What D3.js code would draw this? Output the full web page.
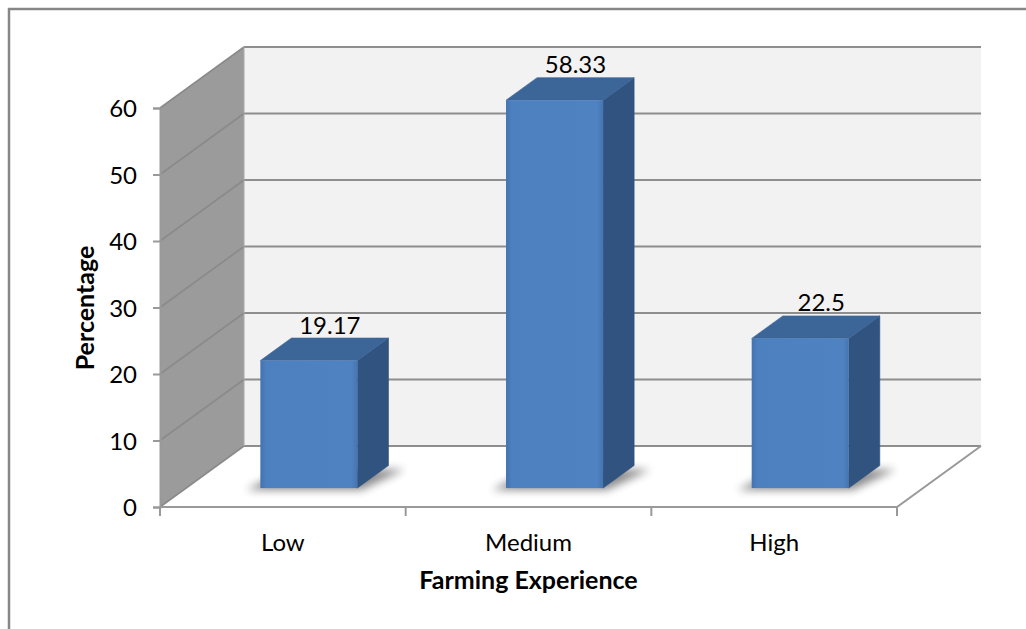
<!DOCTYPE html>
<html>
<head>
<meta charset="utf-8">
<script src="https://cdn.jsdelivr.net/npm/d3@7/dist/d3.min.js"></script>
<style>
  html, body { margin: 0; padding: 0; background: #ffffff; }
  svg { display: block; }
  text { font-family: Lato, "Open Sans", sans-serif; fill: #000; }
</style>
</head>
<body>
<svg id="chart" width="1026" height="629"></svg>
<script>
// Farming experience of respondents (percentage)
const categories = ["Low", "Medium", "High"];
const values = [19.17, 58.33, 22.5];
const yTickValues = [0, 10, 20, 30, 40, 50, 60];
const xTitle = "Farming Experience";
const yTitle = "Percentage";

const W = 1026, H = 629;
const svg = d3.select("#chart");

// Front plane of the 3D box and the oblique depth vector
const frontLeft = 160, frontRight = 897, frontBottom = 507, frontTop = 108;
const depth = { dx: 84, dy: -61 };
const barFront = 0.31;    // bar front face position as a fraction of floor depth
const barDepth = 0.37;    // bar thickness as a fraction of floor depth
const barWidth = 0.395;   // bar face width as a fraction of the band

const labelSize = "24px";
const titleSize = "25px";

const y = d3.scaleLinear().domain([0, 60]).range([frontBottom, frontTop]);
const x = d3.scaleBand().domain(categories).range([frontLeft, frontRight]).padding(0);

const gridColor = "#8e8e8e";
const edgeColor = "#999999";

const defs = svg.append("defs");
defs.append("filter").attr("id", "shadowBlur")
  .attr("x", "-30%").attr("y", "-60%").attr("width", "160%").attr("height", "220%")
  .append("feGaussianBlur").attr("stdDeviation", 4);

const faceGrad = defs.append("linearGradient").attr("id", "faceGrad")
  .attr("x1", "0").attr("x2", "1").attr("y1", "0").attr("y2", "0");
faceGrad.append("stop").attr("offset", "0").attr("stop-color", "#4373b0");
faceGrad.append("stop").attr("offset", "0.06").attr("stop-color", "#4d80bf");
faceGrad.append("stop").attr("offset", "0.94").attr("stop-color", "#4f82c0");
faceGrad.append("stop").attr("offset", "1").attr("stop-color", "#4575b2");

// Outer chart-area border
svg.append("rect")
  .attr("x", 9).attr("y", 9).attr("width", W + 20).attr("height", H + 20)
  .attr("fill", "#fff").attr("stroke", "#878787").attr("stroke-width", 2.5);

const pt = (px, py) => px + "," + py;

// Back wall
const backLeft = frontLeft + depth.dx, backRight = frontRight + depth.dx;
svg.append("polygon")
  .attr("points", [pt(backLeft, y(60) + depth.dy), pt(backRight, y(60) + depth.dy),
                   pt(backRight, y(0) + depth.dy), pt(backLeft, y(0) + depth.dy)].join(" "))
  .attr("fill", "#f2f2f2");

// Side wall
svg.append("polygon")
  .attr("points", [pt(frontLeft, y(0)), pt(frontLeft, y(60)),
                   pt(backLeft, y(60) + depth.dy), pt(backLeft, y(0) + depth.dy)].join(" "))
  .attr("fill", "#9b9b9b");

// Floor
svg.append("polygon")
  .attr("points", [pt(frontLeft, y(0)), pt(frontRight, y(0)),
                   pt(backRight, y(0) + depth.dy), pt(backLeft, y(0) + depth.dy)].join(" "))
  .attr("fill", "#ffffff");

// Gridlines on back wall and side wall
const grid = svg.append("g");
grid.selectAll("line.back").data(yTickValues).join("line")
  .attr("class", "back")
  .attr("x1", backLeft).attr("x2", backRight)
  .attr("y1", d => y(d) + depth.dy).attr("y2", d => y(d) + depth.dy)
  .attr("stroke", gridColor).attr("stroke-width", 2);
grid.selectAll("line.side").data(yTickValues).join("line")
  .attr("class", "side")
  .attr("x1", frontLeft).attr("x2", backLeft)
  .attr("y1", d => y(d)).attr("y2", d => y(d) + depth.dy)
  .attr("stroke", "#8a8a8a").attr("stroke-width", 1.6);

// Wall edge behind the side wall
svg.append("line")
  .attr("x1", backLeft).attr("x2", backLeft)
  .attr("y1", y(60) + depth.dy).attr("y2", y(0) + depth.dy)
  .attr("stroke", "#a8a8a8").attr("stroke-width", 1);

// Floor edges
svg.append("polyline")
  .attr("points", [pt(frontLeft, y(0)), pt(frontRight, y(0)), pt(backRight, y(0) + depth.dy)].join(" "))
  .attr("fill", "none").attr("stroke", edgeColor).attr("stroke-width", 2);

// Y axis
const yAxis = svg.append("g")
  .attr("transform", `translate(${frontLeft},0)`)
  .call(d3.axisLeft(y).tickValues(yTickValues).tickSize(7).tickPadding(16).tickFormat(d3.format("d")));
yAxis.select(".domain").attr("stroke", edgeColor).attr("stroke-width", 2);
yAxis.selectAll(".tick line").attr("stroke", edgeColor).attr("stroke-width", 2);
yAxis.selectAll(".tick text")
  .style("font-family", "Lato, sans-serif").style("font-size", labelSize).attr("fill", "#000")
  .attr("dy", "0.36em");

// X axis: tick marks on band boundaries, labels at band centres
const xAxis = svg.append("g");
const bounds = categories.map(c => x(c)).concat([x(categories[categories.length - 1]) + x.bandwidth()]);
xAxis.selectAll("line").data(bounds).join("line")
  .attr("x1", d => d).attr("x2", d => d)
  .attr("y1", y(0)).attr("y2", y(0) + 9)
  .attr("stroke", edgeColor).attr("stroke-width", 2);
xAxis.selectAll("text").data(categories).join("text")
  .attr("x", d => x(d) + x.bandwidth() / 2)
  .attr("y", 551)
  .attr("text-anchor", "middle")
  .style("font-size", labelSize)
  .text(d => d);

// Bars
const bw = x.bandwidth() * barWidth;
const fx = depth.dx * barFront, fy = depth.dy * barFront;
const bdx = depth.dx * barDepth, bdy = depth.dy * barDepth;
const bars = categories.map((c, i) => {
  const x0 = x(c) + (x.bandwidth() - bw) / 2 + fx;
  return { c, v: values[i], x0, x1: x0 + bw, yb: y(0) + fy, yt: y(values[i]) + fy };
});

// Soft floor shadows
svg.append("g").selectAll("polygon").data(bars).join("polygon")
  .attr("points", b => [pt(b.x0 - 14, b.yb + 2), pt(b.x1 + 4, b.yb + 2),
                        pt(b.x1 + bdx + 16, b.yb + bdy + 4), pt(b.x0 + bdx - 6, b.yb + bdy + 4)].join(" "))
  .attr("fill", "#000").attr("opacity", 0.45)
  .attr("filter", "url(#shadowBlur)");

const barG = svg.append("g").selectAll("g").data(bars).join("g");
barG.append("polygon")
  .attr("points", b => [pt(b.x1, b.yt), pt(b.x1 + bdx, b.yt + bdy),
                        pt(b.x1 + bdx, b.yb + bdy), pt(b.x1, b.yb)].join(" "))
  .attr("fill", "#30537f").attr("stroke", "#30537f").attr("stroke-width", 0.6).attr("stroke-linejoin", "round");
barG.append("polygon")
  .attr("points", b => [pt(b.x0, b.yt), pt(b.x0 + bdx, b.yt + bdy),
                        pt(b.x1 + bdx, b.yt + bdy), pt(b.x1, b.yt)].join(" "))
  .attr("fill", "#3c6598").attr("stroke", "#3c6598").attr("stroke-width", 0.6).attr("stroke-linejoin", "round");
barG.append("rect")
  .attr("x", b => b.x0).attr("y", b => b.yt)
  .attr("width", bw).attr("height", b => b.yb - b.yt)
  .attr("fill", "url(#faceGrad)");

// Value labels
svg.append("g").selectAll("text").data(bars).join("text")
  .attr("x", b => (b.x0 + b.x1) / 2 + 21)
  .attr("y", b => b.yt - 27)
  .attr("text-anchor", "middle")
  .style("font-size", labelSize)
  .text(b => b.v);

// Axis titles
svg.append("text")
  .attr("x", (frontLeft + frontRight) / 2).attr("y", 589)
  .attr("text-anchor", "middle")
  .style("font-size", titleSize).style("font-weight", "bold")
  .text(xTitle);
svg.append("text")
  .attr("transform", "translate(94,308) rotate(-90)")
  .attr("text-anchor", "middle")
  .style("font-size", titleSize).style("font-weight", "bold")
  .text(yTitle);
</script>
</body>
</html>
